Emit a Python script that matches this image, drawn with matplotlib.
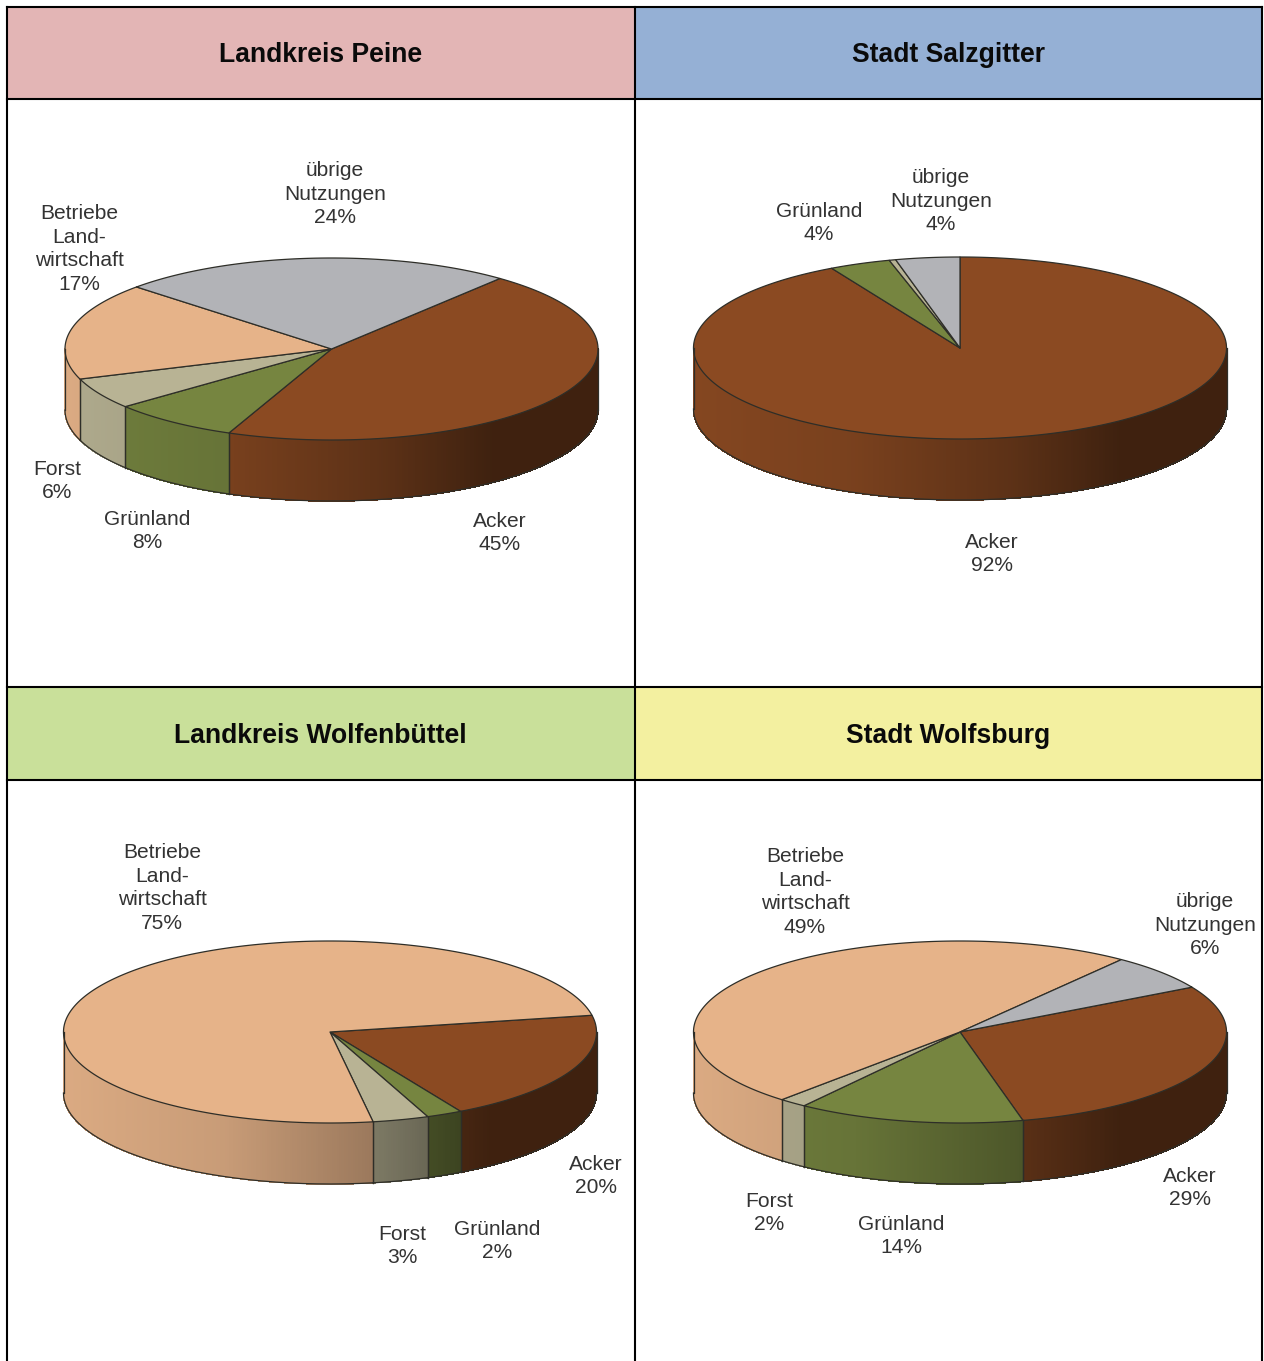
import numpy as np
import matplotlib
matplotlib.use('Agg')
import matplotlib.pyplot as plt
from matplotlib.collections import PolyCollection
from matplotlib.colors import to_rgb

# land use shares in percent, clockwise from the start angle
# (decimals read from the slice edges, the labels show them rounded)
categories = ['Acker', 'Grünland', 'Forst', 'Betriebe\nLand-\nwirtschaft', 'übrige\nNutzungen']
peine_values = [45.4, 7.8, 5.55, 17.3, 23.95]
salzgitter_values = [92, 3.72, 0.4, 0, 3.88]
wolfenbuettel_values = [19.8, 2.17, 3.39, 74.64, 0]
wolfsburg_values = [29.4, 13.75, 1.7, 48.7, 6.45]
titles = ['Landkreis Peine', 'Stadt Salzgitter', 'Landkreis Wolfenbüttel', 'Stadt Wolfsburg']

# layout, in pixels of the picture
header_colors = ['#e3b5b5', '#95b0d5', '#c9e09a', '#f3f0a0']
slice_colors = ['#8b4a22', '#768540', '#b8b394', '#e6b389', '#b2b3b7']
rx, ry, depth = 266.5, 91, 61
panels = [
    (peine_values, 331.5, 349, 50.8, 320.5, 55,
     [(500, 533), (147, 531), (57, 481), (79, 249), (335, 194)]),
    (salzgitter_values, 960, 348, 90, 948.5, 55,
     [(992, 554), (819, 223), None, None, (941, 201)]),
    (wolfenbuettel_values, 330, 1032, 10.6, 320.5, 736,
     [(596, 1176), (497, 1241), (402, 1246), (162, 888), None]),
    (wolfsburg_values, 960, 1032, 29.5, 948.5, 736,
     [(1190, 1188), (901, 1236), (769, 1213), (805, 892), (1205, 925)]),
]

plt.rcParams['font.family'] = ['Liberation Sans', 'DejaVu Sans']

fig = plt.figure(figsize=(12.64, 13.61), dpi=100)
ax = fig.add_axes([0, 0, 1, 1])
ax.set_xlim(0, 1264)
ax.set_ylim(1361, 0)
ax.axis('off')


def shade(u):
    return np.interp(u, [-1, -0.4, 0.2, 0.6, 1], [0.95, 0.87, 0.66, 0.45, 0.45])


def arc(cx, cy, t1, t2):
    t = np.radians(np.linspace(t1, t2, max(2, int(abs(t2 - t1) * 2))))
    return np.column_stack([cx + rx * np.cos(t), cy - ry * np.sin(t)])


def draw_pie(values, cx, cy, start, label_pos):
    ang = start
    bounds = []
    for v in values:
        bounds.append((ang, ang - v * 3.6))
        ang -= v * 3.6

    # front wall, cut in thin strips for the shading
    for (a, b), v, col in zip(bounds, values, slice_colors):
        hi, lo = min(a, 0), max(b, -180)
        if v == 0 or hi <= lo:
            continue
        pts = arc(cx, cy, hi, lo)
        polys, faces = [], []
        for p, q in zip(pts[:-1], pts[1:]):
            polys.append([p, q, q + [0, depth], p + [0, depth]])
            faces.append(np.array(to_rgb(col)) * shade(((p[0] + q[0]) / 2 - cx) / rx))
        ax.add_collection(PolyCollection(polys, facecolors=faces, edgecolors=faces, linewidths=0.5,
                                         antialiaseds=False))
        for x, y in (pts[0], pts[-1]):
            ax.plot([x, x], [y, y + depth], color='#2e2e28', lw=0.9)
        ax.plot(pts[:, 0], pts[:, 1] + depth, color='#2e2e28', lw=0.9)

    # top of the disc
    for (a, b), v, col in zip(bounds, values, slice_colors):
        if v == 0:
            continue
        pts = np.vstack([[cx, cy], arc(cx, cy, a, b)])
        ax.fill(pts[:, 0], pts[:, 1], facecolor=col, edgecolor='#2e2e28', lw=0.9, joinstyle='round')

    for name, v, pos in zip(categories, values, label_pos):
        if pos is not None:
            ax.text(pos[0], pos[1], f'{name}\n{v:.0f}%', ha='center', va='center', fontsize=15.1,
                    color='#333333', linespacing=1.31)


for (values, cx, cy, start, tx, ty, label_pos), title, color in zip(panels, titles, header_colors):
    left = 7 if tx < 635 else 635
    top = 7 if ty < 687 else 687
    ax.fill([left, left + 627, left + 627, left], [top, top, top + 92, top + 92], color=color, lw=0)
    ax.text(tx, ty, title, ha='center', va='center', fontsize=19.1, fontweight='bold', color='#0a0a0a')
    draw_pie(values, cx, cy, start, label_pos)

# table rules
for y in [7, 99, 687, 780]:
    ax.plot([7, 1262], [y, y], color='black', lw=1.5, solid_capstyle='projecting')
for x in [7, 635, 1262]:
    ax.plot([x, x], [7, 1361], color='black', lw=1.5, solid_capstyle='projecting')

fig.savefig('out.png', dpi=100)
